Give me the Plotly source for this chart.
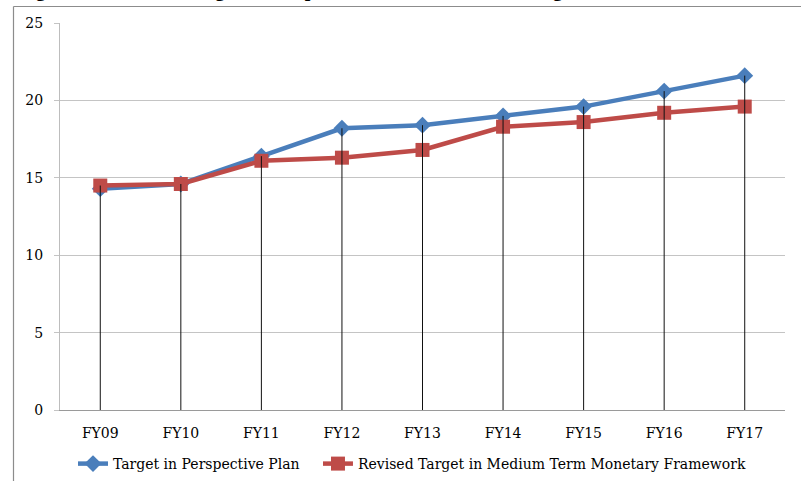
import plotly.graph_objects as go

# Fiscal years on the category axis
years = ["FY09", "FY10", "FY11", "FY12", "FY13", "FY14", "FY15", "FY16", "FY17"]

# Targets (% of GDP)
perspective_plan = [14.3, 14.6, 16.4, 18.2, 18.4, 19.0, 19.6, 20.6, 21.6]
revised_mtmf = [14.5, 14.6, 16.1, 16.3, 16.8, 18.3, 18.6, 19.2, 19.6]

y_ticks = [0, 5, 10, 15, 20, 25]

FONT = "DejaVu Serif"
BLUE = "#4A7EBB"
RED = "#BE4B48"
NBSP = "\u00a0"

# Plot area in pixels of the 801x481 page
W, H = 801, 481
L, R, T, B = 60, 785, 23, 410


def px_x(p):
    return (p - L) / (R - L)


def px_y(p):
    return (B - p) / (B - T)


fig = go.Figure()

fig.add_trace(go.Scatter(
    x=years, y=perspective_plan, mode="lines+markers",
    name="Target in Perspective Plan" + NBSP * 3,
    line=dict(color=BLUE, width=4.5),
    marker=dict(symbol="diamond", size=13, color=BLUE),
))
fig.add_trace(go.Scatter(
    x=years, y=revised_mtmf, mode="lines+markers",
    name="Revised Target in Medium Term Monetary Framework",
    line=dict(color=RED, width=4.5),
    marker=dict(symbol="square", size=14, color=RED),
))

# Drop lines from the higher of the two series down to the axis
drop_x, drop_y = [], []
for yr, a, b in zip(years, perspective_plan, revised_mtmf):
    drop_x += [yr, yr, None]
    drop_y += [max(a, b), 0, None]
fig.add_trace(go.Scatter(
    x=drop_x, y=drop_y, mode="lines", showlegend=False, hoverinfo="skip",
    line=dict(color="#111111", width=1),
))

# Outer chart border (left and top edges)
fig.add_shape(type="line", xref="paper", yref="paper",
              x0=px_x(13.5), x1=px_x(W + 5), y0=px_y(6.5), y1=px_y(6.5),
              line=dict(color="#8c8c8c", width=1.2))
fig.add_shape(type="line", xref="paper", yref="paper",
              x0=px_x(13.5), x1=px_x(13.5), y0=px_y(6.5), y1=px_y(H + 5),
              line=dict(color="#8c8c8c", width=1.2))

# Figure caption running above the frame
fig.add_annotation(
    text="<b>Figure 2: Tax-GDP Target in Perspective Plan and Revised Target</b>",
    xref="paper", yref="paper", x=px_x(16), y=px_y(3),
    xanchor="left", yanchor="bottom", showarrow=False,
    font=dict(family="Liberation Serif", size=20, color="#000000"),
)

fig.update_layout(
    width=W, height=H,
    margin=dict(l=L, r=W - R, t=T, b=H - B, pad=0, autoexpand=False),
    paper_bgcolor="white", plot_bgcolor="white",
    font=dict(family=FONT, size=14, color="#000000"),
    showlegend=True,
    legend=dict(
        orientation="h", x=px_x(73), y=px_y(448), xanchor="left", yanchor="top",
        font=dict(family=FONT, size=14, color="#000000"),
        bgcolor="rgba(0,0,0,0)",
        itemwidth=30,
    ),
    xaxis=dict(
        type="category", categoryorder="array", categoryarray=years,
        range=[-0.5, len(years) - 0.5],
        showgrid=False, zeroline=False,
        showline=True, linecolor="#9a9a9a", linewidth=1,
        ticks="outside", ticklen=10, tickcolor="rgba(0,0,0,0)",
        tickfont=dict(family=FONT, size=14, color="#000000"),
    ),
    yaxis=dict(
        range=[0, 25], tickvals=y_ticks, ticktext=[str(v) for v in y_ticks],
        showgrid=True, gridcolor="#c4c4c4", gridwidth=1,
        zeroline=False, showline=True, linecolor="#bdbdbd", linewidth=1,
        ticks="outside", ticklen=5, tickcolor="#c4c4c4",
        ticklabelstandoff=8,
        tickfont=dict(family=FONT, size=14, color="#000000"),
    ),
)

fig.write_html("out.html")
